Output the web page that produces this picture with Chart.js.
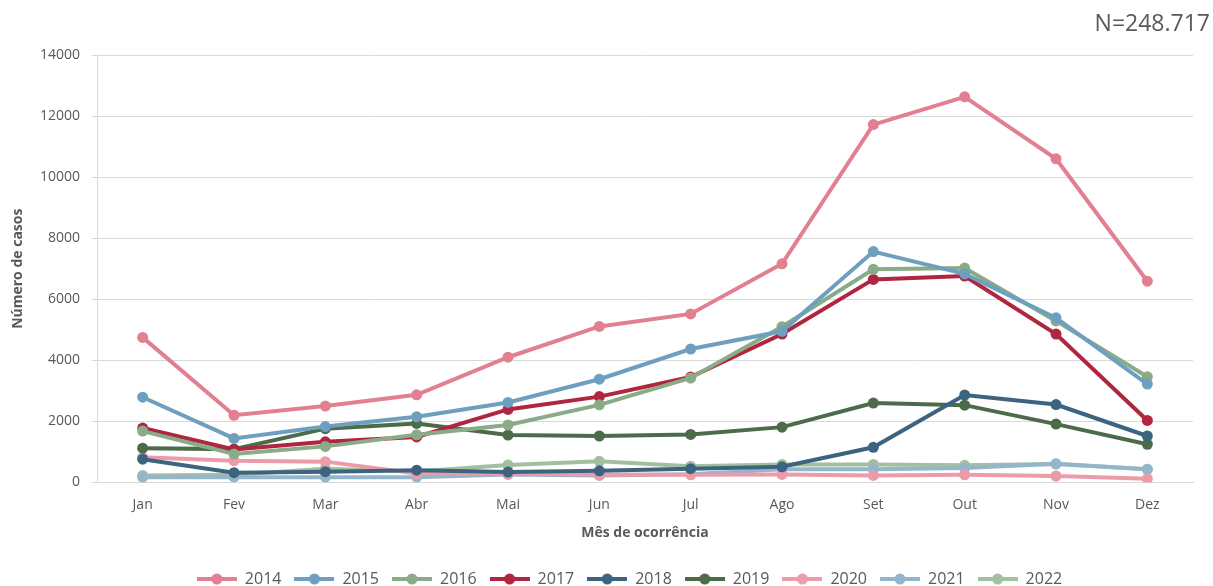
<!DOCTYPE html>
<html>
<head>
<meta charset="utf-8">
<script src="https://cdn.jsdelivr.net/npm/chart.js@4"></script>
<style>
html, body { margin: 0; padding: 0; background: #fff; }
#wrap { width: 1213px; height: 586px; }
</style>
</head>
<body>
<div id="wrap"><canvas id="casesChart"></canvas></div>
<script>
const months = ["Jan", "Fev", "Mar", "Abr", "Mai", "Jun", "Jul", "Ago", "Set", "Out", "Nov", "Dez"];
const years = ["2014", "2015", "2016", "2017", "2018", "2019", "2020", "2021", "2022"];

const cases2014 = [4750, 2200, 2500, 2870, 4100, 5110, 5520, 7160, 11720, 12630, 10600, 6590];
const cases2015 = [2790, 1440, 1830, 2150, 2620, 3380, 4370, 4950, 7560, 6830, 5390, 3220];
const cases2016 = [1680, 930, 1180, 1560, 1880, 2540, 3420, 5100, 6980, 7020, 5290, 3460];
const cases2017 = [1780, 1080, 1330, 1490, 2390, 2810, 3450, 4860, 6650, 6760, 4860, 2030];
const cases2018 = [760, 320, 350, 400, 340, 380, 450, 510, 1150, 2860, 2550, 1520];
const cases2019 = [1120, 1090, 1760, 1930, 1550, 1520, 1570, 1810, 2600, 2530, 1910, 1250];
const cases2020 = [820, 710, 680, 290, 280, 260, 250, 260, 230, 250, 210, 120];
const cases2021 = [170, 170, 170, 170, 260, 230, 270, 430, 430, 470, 610, 430];
const cases2022 = [230, 250, 450, 360, 570, 690, 530, 590, 590, 560, 600, 430];

const yTicks = [0, 2000, 4000, 6000, 8000, 10000, 12000, 14000];
const totalLabel = "N=248.717";

const seriesValues = [cases2014, cases2015, cases2016, cases2017, cases2018, cases2019, cases2020, cases2021, cases2022];
const seriesColors = ["#e27f90", "#6e9fbe", "#89ab87", "#b0253f", "#3c6481", "#4c6b49", "#ec9ba8", "#93b6cd", "#a3bf9f"];

const FONT = "'Open Sans', 'Liberation Sans', sans-serif";
const GREY = "#595959";

function legendMarker(color) {
  const c = document.createElement("canvas");
  c.width = 40;
  c.height = 12;
  const g = c.getContext("2d");
  g.strokeStyle = color;
  g.lineWidth = 4;
  g.beginPath();
  g.moveTo(0, 6);
  g.lineTo(40, 6);
  g.stroke();
  g.fillStyle = color;
  g.beginPath();
  g.arc(20, 6, 5.5, 0, Math.PI * 2);
  g.fill();
  return c;
}

const markers = seriesColors.map(legendMarker);

const datasets = years.map(function (y, i) {
  return {
    label: y,
    data: seriesValues[i],
    borderColor: seriesColors[i],
    backgroundColor: seriesColors[i],
    borderWidth: 4,
    pointRadius: 5.5,
    pointHoverRadius: 5.5,
    pointBorderWidth: 0,
    tension: 0
  };
});

/* total count in the top right corner, legend nudged right */
const totalText = {
  id: "totalText",
  afterLayout: function (chart) {
    if (chart.legend) {
      chart.legend.left += 30;
      chart.legend.right += 30;
    }
  },
  afterDraw: function (chart) {
    const c = chart.ctx;
    c.save();
    c.font = "23px " + FONT;
    c.fillStyle = GREY;
    c.textAlign = "right";
    c.textBaseline = "middle";
    c.fillText(totalLabel, 1210, 24);
    c.restore();
  }
};

const ctx = document.getElementById("casesChart").getContext("2d");

new Chart(ctx, {
  type: "line",
  data: {
    labels: months,
    datasets: datasets
  },
  options: {
    responsive: true,
    maintainAspectRatio: false,
    animation: false,
    layout: {
      padding: { left: 6, right: 20, top: 55, bottom: -11 }
    },
    plugins: {
      legend: {
        position: "bottom",
        labels: {
          usePointStyle: true,
          pointStyleWidth: 40,
          color: GREY,
          font: { family: FONT, size: 16 },
          padding: 13,
          generateLabels: function (chart) {
            return chart.data.datasets.map(function (ds, i) {
              return {
                text: ds.label,
                pointStyle: markers[i],
                fillStyle: ds.borderColor,
                strokeStyle: ds.borderColor,
                fontColor: GREY,
                lineWidth: 0,
                hidden: false,
                datasetIndex: i
              };
            });
          }
        }
      },
      tooltip: { enabled: false }
    },
    scales: {
      x: {
        offset: true,
        grid: { display: false },
        border: { display: true, color: "#d9d9d9", width: 1 },
        ticks: { color: GREY, font: { family: FONT, size: 14 }, padding: 6 },
        title: {
          display: true,
          text: "Mês de ocorrência",
          color: GREY,
          font: { family: FONT, size: 14, weight: "bold" },
          padding: { top: 5, bottom: 17 }
        }
      },
      y: {
        min: 0,
        max: 14000,
        afterBuildTicks: function (scale) {
          scale.ticks = yTicks.map(function (v) { return { value: v }; });
        },
        afterFit: function (scale) {
          scale.width = 91;
        },
        grid: { color: "#d9d9d9", lineWidth: 1, tickLength: 5, tickColor: "#d9d9d9" },
        border: { display: true, color: "#d9d9d9", width: 1 },
        ticks: {
          color: GREY,
          font: { family: FONT, size: 14 },
          padding: 12,
          callback: function (v) { return String(v); }
        },
        title: {
          display: true,
          text: "Número de casos",
          color: GREY,
          font: { family: FONT, size: 14, weight: "bold" },
          padding: { bottom: 4 }
        }
      }
    }
  },
  plugins: [totalText]
});
</script>
</body>
</html>
